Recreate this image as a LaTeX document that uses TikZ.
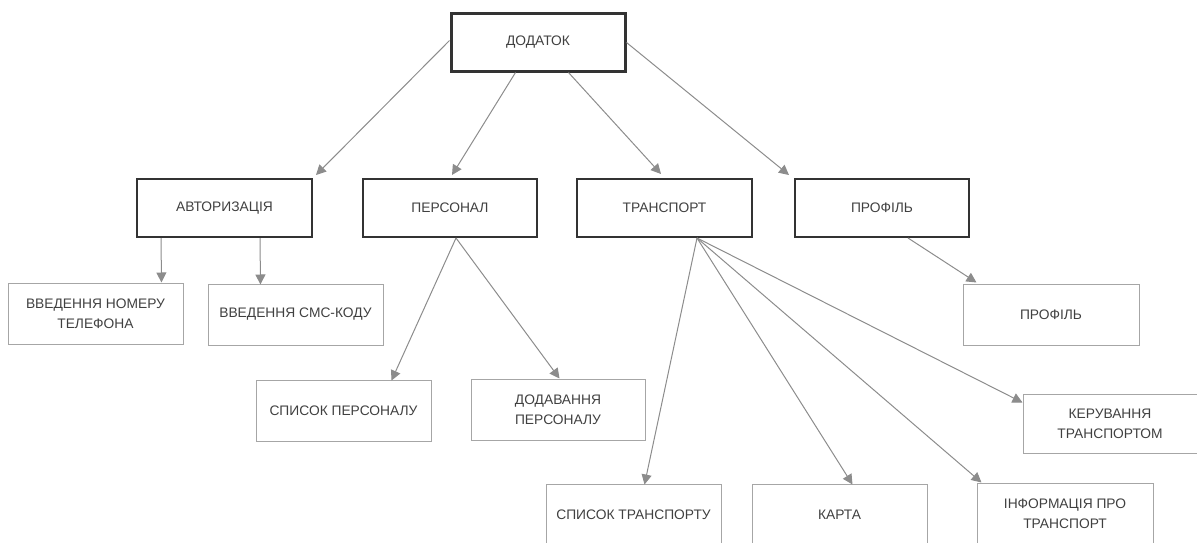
\documentclass[tikz,border=0pt]{standalone}
\usepackage{fontspec}
\setmainfont{Liberation Sans}
\usetikzlibrary{arrows.meta}
\definecolor{boxdark}{HTML}{333333}
\definecolor{boxlight}{HTML}{A6A6A6}
\definecolor{wire}{HTML}{8C8C8C}
\definecolor{ink}{HTML}{404040}
\tikzset{
  label font/.style={font=\fontsize{13.8}{20}\selectfont},
  rootbox/.style={draw=boxdark, line width=3pt, minimum width=174pt, minimum height=58pt,
    inner sep=2pt, align=center, text=ink, label font},
  midbox/.style={draw=boxdark, line width=2pt, minimum width=175pt, minimum height=58pt,
    inner sep=2pt, align=center, text=ink, label font},
  leafbox/.style={draw=boxlight, line width=1pt, minimum width=175pt, minimum height=61pt,
    inner sep=2pt, align=center, text=ink, label font},
  link/.style={draw=wire, line width=1pt, -{Triangle[length=10pt,width=10pt]}}
}
\begin{document}
\begin{tikzpicture}[x=1pt,y=-1pt]
\useasboundingbox (0,0) rectangle (1197,542);

% root
\node[rootbox] (dod) at (538,42) {ДОДАТОК};

% sections
\node[midbox] (avt)  at (224.5,208) {АВТОРИЗАЦІЯ};
\node[midbox, minimum width=174pt] (per)  at (450,208) {ПЕРСОНАЛ};
\node[midbox] (tra)  at (664.5,208) {ТРАНСПОРТ};
\node[midbox, minimum width=174pt] (prof) at (882,208) {ПРОФІЛЬ};

% screens
\node[leafbox] (vnt)   at (95.5,313.5)  {ВВЕДЕННЯ НОМЕРУ\\ТЕЛЕФОНА};
\node[leafbox] (sms)   at (295.5,314.5) {ВВЕДЕННЯ СМС-КОДУ};
\node[leafbox, minimum width=176pt] (prof2) at (1051,314.5) {ПРОФІЛЬ};
\node[leafbox] (sp)    at (343.5,410.5) {СПИСОК ПЕРСОНАЛУ};
\node[leafbox, minimum width=174pt] (dp) at (558,409.5) {ДОДАВАННЯ\\ПЕРСОНАЛУ};
\node[leafbox, minimum width=174pt, minimum height=59pt] (kt) at (1110,423.5) {КЕРУВАННЯ\\ТРАНСПОРТОМ};
\node[leafbox] (st)    at (633.5,514.5) {СПИСОК ТРАНСПОРТУ};
\node[leafbox] (karta) at (839.5,514.5) {КАРТА};
\node[leafbox, minimum width=176pt] (inf) at (1065,513.5) {ІНФОРМАЦІЯ ПРО\\ТРАНСПОРТ};

% root to sections
\draw[link] ([yshift=-29pt]dod.north west) -- ([xshift=3pt,yshift=3pt]avt.north east);
\draw[link] ([xshift=66pt]dod.south west)  -- ([xshift=90pt,yshift=3pt]per.north west);
\draw[link] ([xshift=119pt]dod.south west) -- ([xshift=85pt,yshift=4pt]tra.north west);
\draw[link] ([yshift=-31pt]dod.north east) -- ([xshift=-5pt,yshift=3pt]prof.north west);

% authorisation
\draw[link] ([xshift=25pt]avt.south west)  -- ([xshift=154pt]vnt.north west);
\draw[link] ([xshift=124pt]avt.south west) -- ([xshift=53pt,yshift=-1pt]sms.north west);

% staff
\draw[link] ([xshift=94pt]per.south west) -- ([xshift=136pt,yshift=-1pt]sp.north west);
\draw[link] ([xshift=94pt]per.south west) -- ([xshift=89pt]dp.north west);

% transport
\draw[link] ([xshift=121pt]tra.south west) -- ([xshift=99pt,yshift=-1pt]st.north west);
\draw[link] ([xshift=121pt]tra.south west) -- ([xshift=101pt,yshift=-1pt]karta.north west);
\draw[link] ([xshift=121pt]tra.south west) -- ([xshift=5pt]inf.north west);
\draw[link] ([xshift=121pt]tra.south west) -- ([yshift=-9pt]kt.north west);

% profile
\draw[link] ([xshift=114pt]prof.south west) -- ([xshift=14pt,yshift=1pt]prof2.north west);
\end{tikzpicture}
\end{document}
